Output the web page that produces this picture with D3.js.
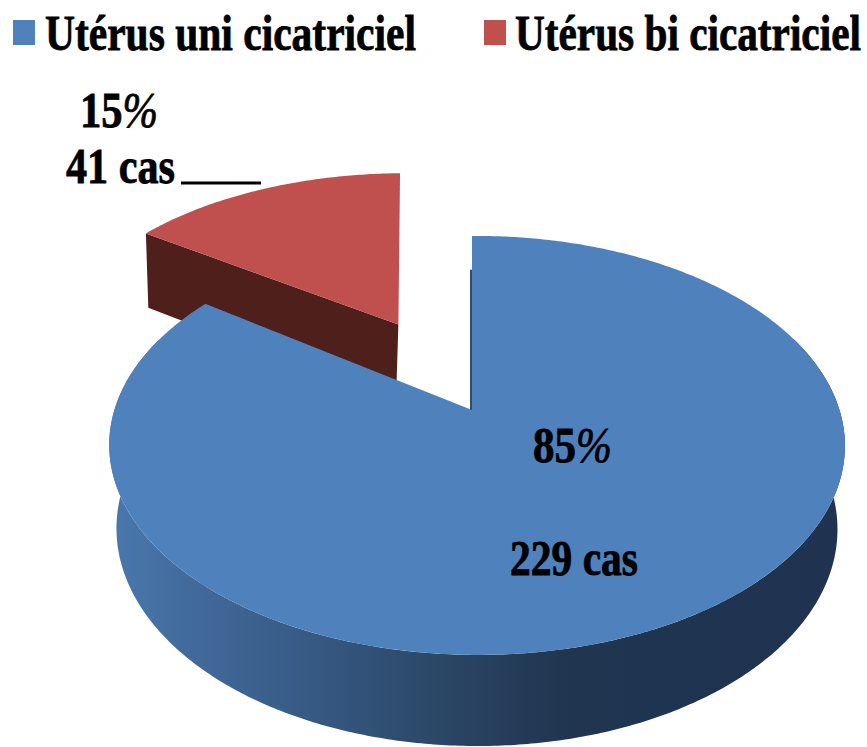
<!DOCTYPE html>
<html>
<head>
  <meta charset="utf-8" />
  <title>Utérus cicatriciel</title>
  <script src="https://d3js.org/d3.v7.min.js"></script>
  <style>
    html, body { margin: 0; padding: 0; background: #fff; overflow: hidden; }
    text { font-family: "Liberation Serif", serif; font-weight: bold; fill: #000; stroke: #000; stroke-width: 0.8; }
  </style>
</head>
<body>
  <div id='graph'></div>
<script>
  // values
  const categories = ['Utérus uni cicatriciel', 'Utérus bi cicatriciel']
  const cases = [229, 41]
  const percentLabels = ['85%', '15%']
  const caseLabels = ['229 cas', '41 cas']
  const colors = ['#4f81bd', '#c0504d']

  const width = 867
  const height = 747

  const svg = d3.select('#graph').append('svg')
    .attr('width', width)
    .attr('height', height)
    .style('display', 'block')

  // Perspective of the tilted disc, u goes right and v goes to the back
  const cx = 472, cy = 410, rx = 362.5, ry = 203.5, persp = 0.169, skew = -0.0136
  const depth = 82, depthPersp = 0.1, lowerScale = 0.98

  function project(u, v, lower) {
    const d = 1 + persp * v + skew * u
    const s = lower ? lowerScale : 1
    const drop = lower ? depth / (1 + depthPersp * v) : 0
    return [cx + rx * s * u / d, cy - ry * v / d + drop]
  }

  const pie = d3.pie().sort(null)
  const arcs = pie(cases)
  const line = d3.line()

  function rim(a0, a1, offset, lower, proj) {
    const n = Math.max(2, Math.ceil(Math.abs(a1 - a0) / 0.01))
    return d3.range(n + 1).map(i => {
      const a = a0 + (a1 - a0) * i / n
      return proj(Math.sin(a) + offset[0], Math.cos(a) + offset[1], lower)
    })
  }

  // side of the big slice goes from light on the left to dark on the right
  const grad = svg.append('defs').append('linearGradient')
    .attr('id', 'wall')
    .attr('gradientUnits', 'userSpaceOnUse')
    .attr('x1', 109).attr('x2', 845).attr('y1', 0).attr('y2', 0)
  const wallStops = [[0, '#4a79ae'], [0.12, '#41699a'], [0.27, '#375a84'], [0.45, '#2b4766'], [0.62, '#203550'], [1, '#1f3350']]
  grad.selectAll('stop').data(wallStops).enter().append('stop')
    .attr('offset', d => d[0])
    .attr('stop-color', d => d[1])

  // small slice pulled out along its bisector
  const red = arcs[1]
  const mid = (red.startAngle + red.endAngle) / 2
  const pull = 0.51
  const off = [Math.sin(mid) * pull, Math.cos(mid) * pull]
  const none = [0, 0]

  // the pulled out slice sits a bit differently in the view, its right edge is upright
  function projectRed(u, v, lower) {
    const p = project(u, v, false)
    const x = 1.022 * p[0] + 0.0608 * p[1] - 23.4
    if (!lower) return [x, p[1]]
    const q = project(u, v, true)
    return [x + q[0] - p[0] - 4, q[1]]
  }

  // red cut face
  const redFace = [
    projectRed(off[0], off[1], false),
    projectRed(Math.sin(red.startAngle) + off[0], Math.cos(red.startAngle) + off[1], false),
    projectRed(Math.sin(red.startAngle) + off[0], Math.cos(red.startAngle) + off[1], true),
    projectRed(off[0], off[1], true)
  ]
  svg.append('path')
    .attr('d', line(redFace) + 'Z')
    .attr('fill', '#4f1f1c')

  svg.append('path')
    .attr('d', line([projectRed(off[0], off[1], false)].concat(rim(red.startAngle, red.endAngle, off, false, projectRed))) + 'Z')
    .attr('fill', colors[1])

  // blue wall
  const blue = arcs[0]
  const w0 = Math.PI * 0.38, w1 = Math.PI * 1.62
  const wall = rim(w0, w1, none, false, project).concat(rim(w1, w0, none, true, project))
  svg.append('path')
    .attr('d', line(wall) + 'Z')
    .attr('fill', 'url(#wall)')

  // thin back face seen on the edge at twelve o'clock
  svg.append('path')
    .attr('d', line([project(0, 0, false), project(0, 0.78, false)]))
    .attr('transform', 'translate(-1,0)')
    .attr('stroke', '#2f4c70')
    .attr('stroke-width', 2)
    .attr('fill', 'none')

  svg.append('path')
    .attr('d', line([project(0, 0, false)].concat(rim(blue.startAngle, blue.endAngle, none, false, project))) + 'Z')
    .attr('fill', colors[0])

  // the text in the picture is squeezed sideways, so scale each one to its width
  function squeeze(sel) {
    sel.attr('font-size', 50)
      .attr('transform', function (d) {
        const s = d.w / this.getComputedTextLength()
        return 'translate(' + d.x + ',' + d.y + ') scale(' + s + ',1)'
      })
  }

  // legend
  const legendSquareX = [13, 484]
  const legendTexts = [
    {t: categories[0], x: 45, y: 50, w: 371},
    {t: categories[1], x: 515, y: 50, w: 346}
  ]
  svg.selectAll('.swatch').data(colors).enter().append('rect')
    .attr('class', 'swatch')
    .attr('x', (d, i) => legendSquareX[i])
    .attr('y', 20)
    .attr('width', 22)
    .attr('height', 25)
    .attr('fill', d => d)
  svg.selectAll('.legend').data(legendTexts).enter().append('text')
    .attr('class', 'legend')
    .text(d => d.t)
    .call(squeeze)

  // data labels
  const labels = [
    {t: percentLabels[0], x: 533, y: 462, w: 79},
    {t: caseLabels[0], x: 510, y: 575, w: 128},
    {t: percentLabels[1], x: 80, y: 127, w: 78},
    {t: caseLabels[1], x: 66, y: 183, w: 109}
  ]
  svg.selectAll('.label').data(labels).enter().append('text')
    .attr('class', 'label')
    .attr('font-size', 50)
    .each(function (d) {
      // the percent sign looks thin and slanted in the picture
      const t = d3.select(this)
      if (d.t.endsWith('%')) {
        t.append('tspan').text(d.t.slice(0, -1))
        t.append('tspan').attr('font-style', 'italic').style('font-weight', 'normal').text('%')
      } else {
        t.text(d.t)
      }
    })
    .call(squeeze)

  // leader line of the small slice
  svg.append('line')
    .attr('x1', 181).attr('x2', 261)
    .attr('y1', 183).attr('y2', 183)
    .attr('stroke', '#000')
    .attr('stroke-width', 3)
</script>
</body>
</html>
